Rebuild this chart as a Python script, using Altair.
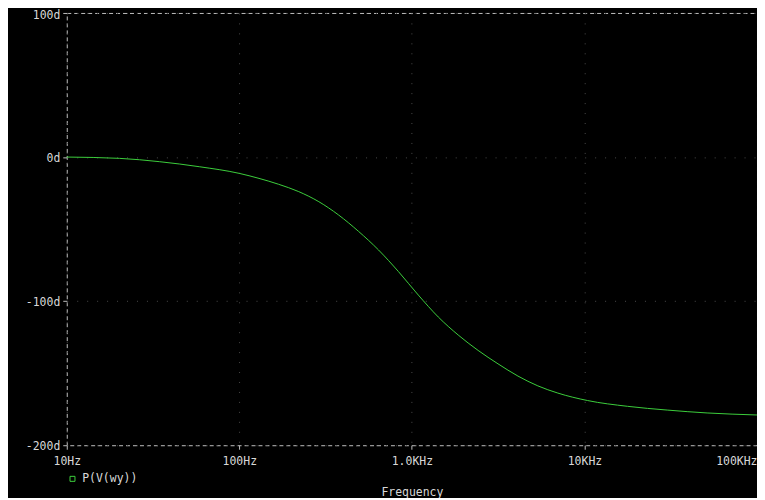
import altair as alt
import pandas as pd

# Values
freq_hz = [10, 20.2, 34.4, 58.6, 99.7, 130, 169, 221, 289, 376, 491, 641, 836,
           1090, 1422, 1855, 2420, 3155, 4118, 5370, 7010, 10440, 17780,
           30200, 51400, 100000]
phase_deg = [0.0, -0.9, -3.2, -6.7, -11.3, -14.8, -18.9, -24.0, -31.0, -40.2,
             -51.6, -64.5, -79.5, -95.8, -111.0, -123.5, -134.2, -143.5,
             -152.0, -158.8, -163.8, -169.0, -173.0, -175.6, -177.6, -179.0]
series_name = "P(V(wy))"

xtick_vals = [10, 100, 1000, 10000, 100000]
xtick_labels = ["10Hz", "100Hz", "1.0KHz", "10KHz", "100KHz"]
ytick_vals = [100, 0, -100, -200]

df = pd.DataFrame({"f": freq_hz, "p": phase_deg, "s": [series_name] * len(freq_hz)})

label_expr = " : ".join(
    f"datum.value == {v} ? '{l}'" for v, l in zip(xtick_vals, xtick_labels)
) + " : ''"

FONT = "DejaVu Sans Mono"
TXT = "#d8d8d8"
GREEN = "#3ccf3c"

chart = alt.Chart(df).mark_line(strokeWidth=1, interpolate="monotone").encode(
    x=alt.X("f:Q",
            scale=alt.Scale(type="log", domain=[10, 100000], nice=False),
            axis=alt.Axis(values=xtick_vals, labelExpr=label_expr,
                          title="Frequency", titlePadding=20,
                          labelAlign=alt.expr("datum.value >= 100000 ? 'right' : 'center'"),
                          labelPadding=6)),
    y=alt.Y("p:Q",
            scale=alt.Scale(domain=[-200, 100], nice=False),
            axis=alt.Axis(values=ytick_vals, labelExpr="datum.value + 'd'",
                          title=None, labelPadding=3,
                          labelOffset=alt.expr("datum.value == 100 ? 2.5 : 1"))),
    color=alt.Color("s:N", scale=alt.Scale(range=[GREEN]),
                    legend=alt.Legend(title=None, orient="none", legendX=0, legendY=462,
                                      symbolType="square", symbolSize=25,
                                      symbolStrokeWidth=1, symbolFillColor="transparent",
                                      labelFont=FONT, labelFontSize=11.5,
                                      labelColor=TXT, padding=0, labelOffset=4)),
).properties(
    width=693, height=434,
    background="black",
    padding={"left": 59, "top": 4, "right": 0, "bottom": 52},
    autosize=alt.AutoSizeParams(type="none"),
).configure_view(
    stroke="#c0c0c0", strokeDash=[4, 3], strokeWidth=1, fill="black"
).configure_axis(
    domain=False,
    grid=True, gridColor="#4a4a4a", gridDash=[1, 9], gridWidth=1,
    tickColor="#c0c0c0", tickSize=4, tickWidth=1,
    labelFont=FONT, labelFontSize=11.5, labelColor=TXT,
    titleFont=FONT, titleFontSize=11.5, titleColor=TXT, titleFontWeight="normal",
)

chart.save("out.html", embed_options={"renderer": "svg", "actions": False})
